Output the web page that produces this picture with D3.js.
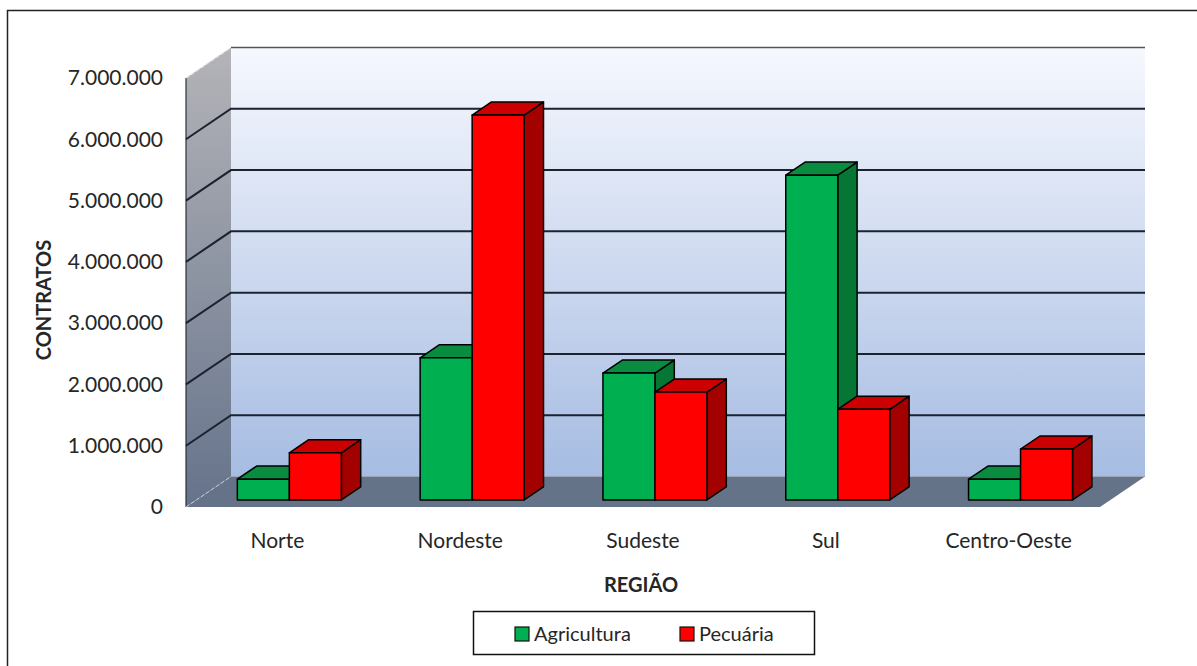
<!DOCTYPE html>
<html><head><meta charset="utf-8">
<script src="https://cdn.jsdelivr.net/npm/d3@7"></script>
<style>body{margin:0;background:#fff}svg{display:block}text{font-family:Lato,"Liberation Sans",sans-serif;fill:#262626}</style>
</head><body><svg id="c" width="1197" height="666"></svg>
<script>
const categories = ["Norte", "Nordeste", "Sudeste", "Sul", "Centro-Oeste"];
const seriesNames = ["Agricultura", "Pecuária"];
const agricultura = [340000, 2320000, 2070000, 5300000, 340000];
const pecuaria = [770000, 6280000, 1760000, 1480000, 830000];
const yTicks = [0, 1000000, 2000000, 3000000, 4000000, 5000000, 6000000, 7000000];
const yTitle = "CONTRATOS";
const xTitle = "REGIÃO";

const svg = d3.select("#c");
const DX = 45, DY = 30.5;          // full floor depth offset
const D1 = 0.23, D2 = 0.66;         // bar front/back depth fractions
const x = d3.scaleBand().domain(categories).range([186, 1100]);
const xs = d3.scaleBand().domain(seriesNames).range([41, 145]);
const y = d3.scaleLinear().domain([0, 7000000]).range([507, 78]);
const P = (px, py, d) => [px + DX * d, py - DY * d];
const poly = pts => pts.map(p => p.join(",")).join(" ");
const locale = d3.formatLocale({decimal: ",", thousands: ".", grouping: [3], currency: ["R$", ""]});
const fmt = locale.format(",.0f");

const defs = svg.append("defs");
const g1 = defs.append("linearGradient").attr("id", "wall").attr("x1", 0).attr("x2", 0).attr("y1", 0).attr("y2", 1);
g1.append("stop").attr("offset", "0%").attr("stop-color", "#f6f8fe");
g1.append("stop").attr("offset", "100%").attr("stop-color", "#a6bce2");
const g2 = defs.append("linearGradient").attr("id", "side").attr("x1", 0).attr("x2", 0).attr("y1", 0).attr("y2", 1);
g2.append("stop").attr("offset", "0%").attr("stop-color", "#b4b4b8");
g2.append("stop").attr("offset", "100%").attr("stop-color", "#65738b");

// outer border
svg.append("rect").attr("x", 7.5).attr("y", 10.5).attr("width", 1200).attr("height", 700)
  .attr("fill", "none").attr("stroke", "#222").attr("stroke-width", 1.5);

const x0 = x.range()[0], x1 = x.range()[1];
const yTop = y(7000000), yBot = y(0);
// back wall
svg.append("polygon").attr("points", poly([P(x0, yTop, 1), P(x1, yTop, 1), P(x1, yBot, 1), P(x0, yBot, 1)]))
  .attr("fill", "url(#wall)");
// side wall
svg.append("polygon").attr("points", poly([[x0, yTop], P(x0, yTop, 1), P(x0, yBot, 1), [x0, yBot]]))
  .attr("fill", "url(#side)");
// floor
svg.append("polygon").attr("points", poly([[x0, yBot], P(x0, yBot, 1), P(x1, yBot, 1), [x1, yBot]]))
  .attr("fill", "#647387");
// side wall front edge
svg.append("line").attr("x1", x0).attr("x2", x0).attr("y1", yTop).attr("y2", yBot)
  .attr("stroke", "#2a2f3a").attr("stroke-width", 1.2);
svg.append("line").attr("x1", x0).attr("y1", yTop).attr("x2", P(x0, yTop, 1)[0]).attr("y2", P(x0, yTop, 1)[1])
  .attr("stroke", "#e6e6e6").attr("stroke-width", 1.2).attr("stroke-dasharray", "4,2");
svg.append("line").attr("x1", x0).attr("y1", yBot).attr("x2", P(x0, yBot, 1)[0]).attr("y2", P(x0, yBot, 1)[1])
  .attr("stroke", "#c8ccd4").attr("stroke-width", 1).attr("stroke-dasharray", "4,2");
// back floor edge
svg.append("line").attr("x1", P(x0, yBot, 1)[0]).attr("y1", P(x0, yBot, 1)[1]).attr("x2", P(x1, yBot, 1)[0]).attr("y2", P(x1, yBot, 1)[1])
  .attr("stroke", "#9aa6b6").attr("stroke-width", 1);

// gridlines
yTicks.filter(v => v > 0 && v < 7000000).forEach(v => {
  svg.append("polyline").attr("points", poly([[x0, y(v)], P(x0, y(v), 1), P(x1, y(v), 1)]))
    .attr("fill", "none").attr("stroke", "#1b2230").attr("stroke-width", 2);
});
svg.append("line").attr("x1", P(x0, yTop, 1)[0]).attr("y1", P(x0, yTop, 1)[1]).attr("x2", P(x1, yTop, 1)[0]).attr("y2", P(x1, yTop, 1)[1])
  .attr("stroke", "#555").attr("stroke-width", 1.5);

// bars
const series = [
  {name: "Agricultura", values: agricultura, front: "#00b050", top: "#0a8c40", side: "#067634"},
  {name: "Pecuária", values: pecuaria, front: "#ff0000", top: "#cc0000", side: "#a30000"}
];
const bdx = DX * (D2 - D1), bdy = DY * (D2 - D1);
categories.forEach((c, i) => {
  series.forEach(s => {
    const fx0 = x(c) + xs(s.name) + DX * D1;
    const fx1 = fx0 + xs.bandwidth();
    const fyB = y(0) - DY * D1;
    const fyT = y(s.values[i]) - DY * D1;
    const g = svg.append("g").attr("stroke", "#000").attr("stroke-width", 1.5).attr("stroke-linejoin", "round");
    g.append("polygon").attr("points", poly([[fx1, fyT], [fx1 + bdx, fyT - bdy], [fx1 + bdx, fyB - bdy], [fx1, fyB]])).attr("fill", s.side);
    g.append("polygon").attr("points", poly([[fx0, fyT], [fx0 + bdx, fyT - bdy], [fx1 + bdx, fyT - bdy], [fx1, fyT]])).attr("fill", s.top);
    g.append("rect").attr("x", fx0).attr("y", fyT).attr("width", fx1 - fx0).attr("height", fyB - fyT).attr("fill", s.front);
  });
});

// y axis
const yAxis = svg.append("g").attr("transform", `translate(${x0},0)`)
  .call(d3.axisLeft(y).tickValues(yTicks).tickSize(0).tickPadding(23).tickFormat(fmt));
yAxis.select(".domain").remove();
yAxis.selectAll("text").attr("font-size", 21).attr("font-family", "Lato").attr("fill", "#262626");

// x axis labels
const xAxis = svg.append("g").attr("transform", `translate(0,${yBot + 26})`)
  .call(d3.axisBottom(x).tickSize(0).tickPadding(0));
xAxis.select(".domain").remove();
xAxis.selectAll("text").attr("font-size", 21).attr("font-family", "Lato").attr("fill", "#262626").attr("dy", "0.71em");

// titles
svg.append("text").attr("transform", "translate(51,300) rotate(-90)").attr("text-anchor", "middle")
  .attr("font-size", 20).attr("font-weight", "bold").text(yTitle);
svg.append("text").attr("x", 641).attr("y", 592).attr("text-anchor", "middle")
  .attr("font-size", 20).attr("font-weight", "bold").text(xTitle);

// legend
svg.append("rect").attr("x", 473.5).attr("y", 611.5).attr("width", 341).attr("height", 43)
  .attr("fill", "#fff").attr("stroke", "#111").attr("stroke-width", 1.5);
const legX = [515, 680];
series.forEach((s, i) => {
  svg.append("rect").attr("x", legX[i]).attr("y", 627).attr("width", 14).attr("height", 14)
    .attr("fill", s.front).attr("stroke", "#111").attr("stroke-width", 1.2);
  svg.append("text").attr("x", legX[i] + 19).attr("y", 641).attr("font-size", 20).text(s.name);
});
</script></body></html>
